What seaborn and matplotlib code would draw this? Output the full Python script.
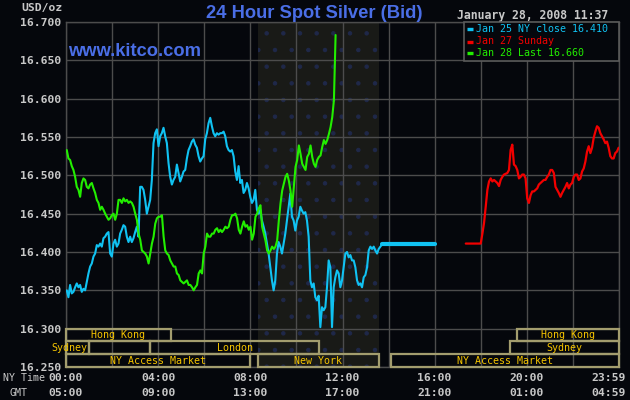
import numpy as np
import pandas as pd
import matplotlib
matplotlib.use("Agg")
import matplotlib.pyplot as plt
import seaborn as sns
from matplotlib.patches import Rectangle
from matplotlib.lines import Line2D

# ---------------- data ----------------
# Jan 25 (cyan), regularly sampled from 00:02 to 13:43 NY time
cyan_start, cyan_end = "00:02", "13:43"
cyan_prices = [
    16.350, 16.341, 16.357, 16.346, 16.348, 16.354, 16.359, 16.354, 16.357, 16.348,
    16.352, 16.350, 16.361, 16.372, 16.381, 16.385, 16.394, 16.398, 16.409, 16.407,
    16.411, 16.407, 16.418, 16.420, 16.424, 16.426, 16.398, 16.394, 16.411, 16.416,
    16.407, 16.411, 16.424, 16.429, 16.435, 16.433, 16.420, 16.413, 16.420, 16.413,
    16.418, 16.426, 16.433, 16.420, 16.485, 16.485, 16.481, 16.468, 16.450, 16.459,
    16.468, 16.494, 16.542, 16.555, 16.560, 16.538, 16.551, 16.555, 16.562, 16.551,
    16.542, 16.516, 16.498, 16.488, 16.494, 16.498, 16.514, 16.503, 16.492, 16.498,
    16.505, 16.507, 16.522, 16.533, 16.538, 16.544, 16.547, 16.540, 16.536, 16.525,
    16.518, 16.522, 16.525, 16.547, 16.555, 16.568, 16.575, 16.564, 16.555, 16.551,
    16.555, 16.553, 16.555, 16.555, 16.557, 16.551, 16.538, 16.533, 16.531, 16.533,
    16.525, 16.505, 16.494, 16.512, 16.490, 16.494, 16.477, 16.481, 16.490, 16.483,
    16.472, 16.464, 16.468, 16.481, 16.455, 16.450, 16.455,
    16.441, 16.433, 16.424, 16.411, 16.398, 16.380, 16.363, 16.350, 16.363, 16.398,
    16.413, 16.407, 16.398, 16.411, 16.424, 16.441, 16.459, 16.476, 16.446, 16.441,
    16.428, 16.441, 16.446, 16.459, 16.454, 16.450, 16.452, 16.441, 16.420, 16.363,
    16.354, 16.359, 16.341, 16.337, 16.343, 16.302, 16.328, 16.324, 16.328, 16.354,
    16.389, 16.380, 16.302, 16.354, 16.367, 16.376, 16.372, 16.354, 16.363, 16.380,
    16.398, 16.400, 16.393, 16.396, 16.389, 16.389, 16.380, 16.363, 16.357, 16.359,
    16.354, 16.367, 16.370, 16.380, 16.402, 16.407, 16.404, 16.407, 16.402, 16.398,
    16.404, 16.407, 16.410,
]
ny_close = 16.410
ny_close_until = "16:02"

# Jan 28 (green), regularly sampled from 00:02 to 11:42 NY time
green_start, green_end = "00:02", "11:42"
green_prices = [
    16.533, 16.522, 16.520, 16.512, 16.507, 16.498, 16.485, 16.481, 16.472, 16.490,
    16.496, 16.494, 16.485, 16.483, 16.488, 16.490, 16.483, 16.477, 16.468, 16.464,
    16.455, 16.459, 16.455, 16.450, 16.446, 16.442, 16.444, 16.448, 16.450, 16.442,
    16.450, 16.468, 16.468, 16.464, 16.470, 16.466, 16.468, 16.464, 16.466, 16.464,
    16.459, 16.450, 16.442, 16.424, 16.416, 16.402, 16.400, 16.398, 16.394, 16.385,
    16.398, 16.411, 16.420, 16.437, 16.444, 16.446, 16.446, 16.448, 16.420, 16.402,
    16.398, 16.396, 16.389, 16.385, 16.381, 16.381, 16.372, 16.370, 16.363, 16.361,
    16.359, 16.361, 16.363, 16.357, 16.357, 16.354, 16.350, 16.354, 16.357, 16.372,
    16.376, 16.372, 16.398, 16.407, 16.424, 16.420, 16.420, 16.424, 16.424, 16.429,
    16.431, 16.426, 16.429, 16.426, 16.429, 16.433, 16.431, 16.433, 16.442, 16.448,
    16.448, 16.450, 16.444, 16.429, 16.424, 16.433, 16.440, 16.433, 16.435, 16.429,
    16.433, 16.416, 16.424, 16.446, 16.450, 16.457, 16.461,
    16.433, 16.424, 16.415, 16.402, 16.398, 16.402, 16.407, 16.404, 16.407, 16.415,
    16.441, 16.463, 16.480, 16.489, 16.498, 16.502, 16.493, 16.480, 16.459, 16.485,
    16.511, 16.520, 16.539, 16.528, 16.515, 16.511, 16.507, 16.524, 16.528, 16.539,
    16.524, 16.515, 16.511, 16.520, 16.524, 16.526, 16.537, 16.546, 16.541, 16.546,
    16.554, 16.563, 16.576, 16.598, 16.683,
]
green_last = 16.660

# Jan 27 Sunday (red), regularly sampled from 17:21 to 23:59 NY time
red_start, red_end = "17:21", "23:59"
red_prices = [
    16.411, 16.411, 16.411, 16.411, 16.411, 16.411, 16.411, 16.411, 16.411, 16.411,
    16.424, 16.438, 16.459, 16.481, 16.492, 16.496, 16.492, 16.494, 16.492, 16.490,
    16.486, 16.494, 16.498, 16.501, 16.502, 16.503, 16.507, 16.533, 16.540, 16.514,
    16.512, 16.507, 16.496, 16.498, 16.501, 16.501, 16.496, 16.470, 16.464, 16.474,
    16.479, 16.479, 16.481, 16.483, 16.488, 16.490, 16.492, 16.494, 16.494, 16.498,
    16.501, 16.507, 16.507, 16.503, 16.485, 16.481, 16.477, 16.472, 16.477, 16.481,
    16.485, 16.490, 16.483, 16.488, 16.490, 16.498, 16.501, 16.501, 16.494, 16.496,
    16.505, 16.509, 16.518, 16.531, 16.538, 16.529, 16.536, 16.549, 16.557, 16.564,
    16.562, 16.555, 16.551, 16.547, 16.542, 16.544, 16.536, 16.525, 16.522, 16.522,
    16.529, 16.531, 16.536,
]

legend_labels = ["Jan 25 NY close 16.410", "Jan 27 Sunday", "Jan 28 Last 16.660"]

y_ticks = [16.25, 16.30, 16.35, 16.40, 16.45, 16.50, 16.55, 16.60, 16.65, 16.70]
x_tick_hours = [0, 4, 8, 12, 16, 20, 24]
ny_labels = ["00:00", "04:00", "08:00", "12:00", "16:00", "20:00", "23:59"]
gmt_labels = ["05:00", "09:00", "13:00", "17:00", "21:00", "01:00", "04:59"]

session_names = ["Hong Kong", "Sydney", "", "London", "NY Access Market",
                 "New York", "NY Access Market", "Sydney", "Hong Kong"]
session_rows = [0, 1, 1, 1, 2, 2, 2, 1, 0]
session_start = ["00:00", "00:00", "01:00", "03:39", "00:00", "08:21", "14:05", "19:16", "19:34"]
session_end = ["04:33", "01:00", "03:39", "11:00", "07:58", "13:34", "24:00", "24:00", "24:00"]
ny_session = ("08:21", "13:34")


def hours(s):
    h, m = s.split(":")
    return int(h) + int(m) / 60.0


# ---------------- style ----------------
BG = "#05070c"
GRID = "#4c4c4c"
TXT = "#c8c8c8"
BLUE = "#4a6ee6"
CYAN = "#10c2f2"
GREEN = "#22ee00"
RED = "#f20000"
GOLD = "#f5c400"
BOX = "#a39d6e"

sns.set_theme(style="dark", rc={"axes.facecolor": BG, "figure.facecolor": BG})
plt.rcParams["font.family"] = ["DejaVu Sans Mono", "DejaVu Sans"]
plt.rcParams["hatch.linewidth"] = 0.8

W, H = 630, 400
fig = plt.figure(figsize=(6.3, 4.0), dpi=100)
L, R, T, B = 66, 619, 22, 367
ax = fig.add_axes([L / W, 1 - B / H, (R - L) / W, (B - T) / H])
ax.set_facecolor(BG)


def fx(x):
    return x / W


def fy(y):
    return 1 - y / H


# ---------------- series ----------------
df_c = pd.DataFrame({"t": np.linspace(hours(cyan_start), hours(cyan_end), len(cyan_prices)),
                     "p": cyan_prices})
df_g = pd.DataFrame({"t": np.linspace(hours(green_start), hours(green_end), len(green_prices)),
                     "p": green_prices})
df_r = pd.DataFrame({"t": np.linspace(hours(red_start), hours(red_end), len(red_prices)),
                     "p": red_prices})
df_flat = pd.DataFrame({"t": [hours(cyan_end), hours(ny_close_until)], "p": [ny_close, ny_close]})

ax.axvspan(hours(ny_session[0]), hours(ny_session[1]), facecolor="#191a17",
           edgecolor="#1f2849", hatch=".", lw=0, zorder=0.5)

sns.lineplot(data=df_c, x="t", y="p", ax=ax, color=CYAN, lw=1.5, estimator=None, zorder=3)
sns.lineplot(data=df_g, x="t", y="p", ax=ax, color=GREEN, lw=1.5, estimator=None, zorder=3)
sns.lineplot(data=df_r, x="t", y="p", ax=ax, color=RED, lw=1.6, estimator=None, zorder=3)
sns.lineplot(data=df_flat, x="t", y="p", ax=ax, color=CYAN, lw=3, estimator=None, zorder=3)

ax.set_xlim(0, 24)
ax.set_ylim(16.25, 16.70)
ax.set_xlabel("")
ax.set_ylabel("")

ax.set_xticks(np.arange(0, 25, 2))
ax.set_xticklabels([])
ax.set_yticks(y_ticks)
ax.set_yticklabels([f"{v:.3f}" for v in y_ticks], color=TXT, fontsize=8.2,
                   fontweight="bold", family="DejaVu Sans Mono")
ax.tick_params(axis="both", length=0)
ax.tick_params(axis="y", pad=3.5)
ax.grid(True, color=GRID, lw=1.0, zorder=1)
ax.set_axisbelow(False)
for s in ax.spines.values():
    s.set_visible(True)
    s.set_color(GRID)
    s.set_linewidth(1.0)

# ---------------- session boxes ----------------
row_h = 0.05 / 3
for name, row, s0, s1 in zip(session_names, session_rows, session_start, session_end):
    x0, x1 = hours(s0), hours(s1)
    y0 = 16.30 - (row + 1) * row_h
    ax.add_patch(Rectangle((x0, y0), x1 - x0, row_h, fill=False, edgecolor=BOX,
                           lw=1.6, zorder=4, clip_on=False))
    if name:
        if x1 - x0 < 1.5:
            ax.text(x1 - 0.08, y0 + row_h / 2, name, ha="right", va="center",
                    color=GOLD, fontsize=7.2, zorder=5, clip_on=False)
        else:
            ax.text((x0 + x1) / 2, y0 + row_h / 2, name, ha="center", va="center",
                    color=GOLD, fontsize=7.2, zorder=5)

# ---------------- time axis labels ----------------
tr = ax.get_xaxis_transform()
for h, ny, gmt in zip(x_tick_hours, ny_labels, gmt_labels):
    if h == 24:
        ax.annotate(ny, (h, -0.032), xycoords=tr, xytext=(7, 0), textcoords="offset pixels",
                    ha="right", va="center", color=TXT, fontsize=8.2, fontweight="bold")
        ax.annotate(gmt, (h, -0.076), xycoords=tr, xytext=(7, 0), textcoords="offset pixels",
                    ha="right", va="center", color=TXT, fontsize=8.2, fontweight="bold")
    else:
        ax.text(h, -0.032, ny, transform=tr, ha="center", va="center", color=TXT,
                fontsize=8.2, fontweight="bold")
        ax.text(h, -0.076, gmt, transform=tr, ha="center", va="center", color=TXT,
                fontsize=8.2, fontweight="bold")

fig.text(fx(45), fy(378), "NY Time", ha="right", va="center", color=TXT, fontsize=7.2)
fig.text(fx(19), fy(393), "GMT", ha="center", va="center", color=TXT, fontsize=7.2)

# ---------------- titles ----------------
fig.text(fx(62.5), fy(11.5), "USD/oz", ha="right", va="baseline", color=TXT,
         fontsize=8.2, fontweight="bold")
fig.text(fx(314), fy(18), "24 Hour Spot Silver (Bid)", ha="center", va="baseline",
         color=BLUE, fontsize=13.2, fontweight="bold", family="Liberation Sans")
fig.text(fx(68), fy(56.5), "www.kitco.com", ha="left", va="baseline",
         color=BLUE, fontsize=13.2, fontweight="bold", family="Liberation Sans")
fig.text(fx(608), fy(18.5), "January 28, 2008 11:37", ha="right", va="baseline",
         color=TXT, fontsize=8.3, fontweight="bold")

# ---------------- legend ----------------
fig.add_artist(Rectangle((fx(464), fy(61)), fx(155), 39 / H, transform=fig.transFigure,
                         facecolor=BG, edgecolor="#5a5a5a", lw=1.2, zorder=6))
for lab, col, yy in zip(legend_labels, [CYAN, RED, GREEN], [29.3, 41.5, 53.4]):
    fig.add_artist(Line2D([fx(466.5), fx(472.5)], [fy(yy), fy(yy)], transform=fig.transFigure,
                          color=col, lw=2.4, solid_capstyle="butt", zorder=7))
    fig.text(fx(476.5), fy(yy), lab, ha="left", va="center", color=col, fontsize=7.2, zorder=7)

fig.savefig("out.png", dpi=100, facecolor=BG)
